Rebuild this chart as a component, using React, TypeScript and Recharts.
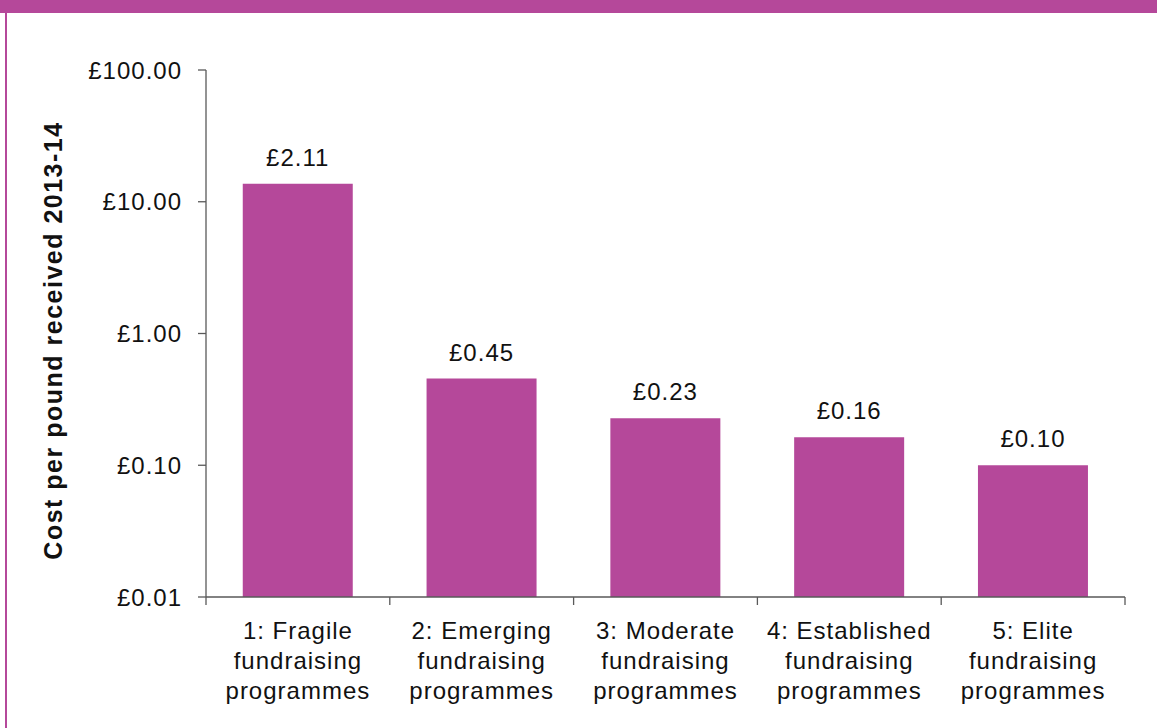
import { BarChart, Bar, XAxis, YAxis, LabelList } from "recharts";

const categories = [
  "1: Fragile fundraising programmes",
  "2: Emerging fundraising programmes",
  "3: Moderate fundraising programmes",
  "4: Established fundraising programmes",
  "5: Elite fundraising programmes",
];
const costValues = [13.7, 0.455, 0.227, 0.163, 0.1];
const costLabels = ["£2.11", "£0.45", "£0.23", "£0.16", "£0.10"];
const yTicks = [0.01, 0.1, 1, 10, 100];
const yTitle = "Cost per pound received 2013-14";

const data = categories.map((name, i) => ({
  name,
  cost: costValues[i],
  label: costLabels[i],
}));

const PURPLE = "#b5489a";
const AXIS = "#595959";
const FONT = "'Liberation Sans', Arial, sans-serif";

const W = 1157;
const H = 728;
const X_AXIS_H = 30;
const MARGIN = { top: 70, right: 32, bottom: 131 - X_AXIS_H, left: 0 };
const Y_AXIS_W = 206;
const BAND = (W - MARGIN.right - Y_AXIS_W) / categories.length;

const CategoryTick = (props: any) => {
  const { x, y, payload, index } = props;
  const words: string[] = String(payload.value).split(" ");
  const lines = [words.slice(0, 2).join(" "), ...words.slice(2)];
  const left = x - BAND / 2;
  return (
    <g>
      <line x1={left} y1={y} x2={left} y2={y + 8} stroke={AXIS} strokeWidth={1.3} />
      {index === categories.length - 1 && (
        <line x1={x + BAND / 2} y1={y} x2={x + BAND / 2} y2={y + 8} stroke={AXIS} strokeWidth={1.3} />
      )}
      {lines.map((ln, i) => (
        <text
          key={i}
          x={x}
          y={y + 42 + i * 30}
          textAnchor="middle"
          fontSize={24}
          letterSpacing={1}
          fill="#111"
          fontFamily={FONT}
        >
          {ln}
        </text>
      ))}
    </g>
  );
};

const ValueLabel = (props: any) => {
  const { x, y, width, index } = props;
  return (
    <text
      x={x + width / 2}
      y={y - 18}
      textAnchor="middle"
      fontSize={24}
      letterSpacing={1}
      fill="#111"
      fontFamily={FONT}
    >
      {costLabels[index]}
    </text>
  );
};

const YTitle = (props: any) => {
  const { viewBox } = props;
  const cx = 53;
  const cy = viewBox.y + viewBox.height / 2 + 7;
  return (
    <text
      x={cx}
      y={cy}
      textAnchor="middle"
      dominantBaseline="central"
      transform={`rotate(-90, ${cx}, ${cy})`}
      fontSize={25}
      fontWeight="bold"
      letterSpacing={1.5}
      fill="#111"
      fontFamily={FONT}
    >
      {yTitle}
    </text>
  );
};

export default function App() {
  return (
    <div
      style={{
        position: "absolute",
        left: 0,
        top: 0,
        width: W,
        height: H,
        background: "#fff",
        overflow: "hidden",
      }}
    >
      <div style={{ position: "absolute", left: 0, top: 0, width: W, height: 13, background: PURPLE }} />
      <div style={{ position: "absolute", left: 5, top: 0, width: 2, height: H, background: PURPLE }} />
      <div style={{ position: "absolute", left: 0, top: 0 }}>
        <BarChart width={W} height={H} data={data} margin={MARGIN} barCategoryGap="20%">
          <XAxis
            dataKey="name"
            interval={0}
            height={X_AXIS_H}
            tickLine={false}
            tickSize={0}
            tickMargin={0}
            stroke={AXIS}
            strokeWidth={1.3}
            tick={<CategoryTick />}
          />
          <YAxis
            scale="log"
            type="number"
            domain={[0.01, 100]}
            ticks={yTicks}
            allowDataOverflow
            width={Y_AXIS_W}
            stroke={AXIS}
            strokeWidth={1.3}
            tickSize={8}
            tickMargin={16}
            tickFormatter={(v: number) => `£${v.toFixed(2)}`}
            tick={{ fontSize: 24, fill: "#111", fontFamily: FONT, letterSpacing: 1 }}
            label={<YTitle />}
          />
          <Bar dataKey="cost" fill={PURPLE} isAnimationActive={false}>
            <LabelList dataKey="label" content={<ValueLabel />} />
          </Bar>
        </BarChart>
      </div>
    </div>
  );
}
